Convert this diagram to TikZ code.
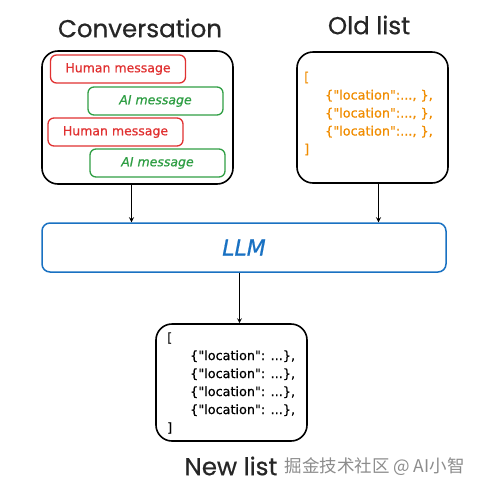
\documentclass[tikz,border=0pt]{standalone}
\usepackage{fontspec}
\setmainfont{Poppins}[FakeBold=0.6]
\newfontfamily\handfont[FakeBold=0.8]{DejaVu Sans}
\newfontfamily\cjkfont{Noto Sans CJK SC}
\usepackage{tikz}
\usetikzlibrary{positioning}

\definecolor{exred}{RGB}{224,49,49}
\definecolor{exgreen}{RGB}{47,158,68}
\definecolor{exblue}{RGB}{25,113,194}
\definecolor{exorange}{RGB}{240,140,0}

\begin{document}
\begin{tikzpicture}[x=1pt,y=-1pt,
    box/.style={draw=black,line width=1.6pt,rounded corners=16pt,inner sep=0pt},
    msg/.style={draw,line width=1.3pt,rounded corners=6pt,minimum width=135pt,minimum height=28pt,inner sep=0pt,font=\handfont\fontsize{12.5}{14}\selectfont},
    human/.style={msg,draw=exred,text=exred},
    aimsg/.style={msg,draw=exgreen,text=exgreen},
    heading/.style={font=\fontsize{24.5}{28}\selectfont,text=black!85},
    listtext/.style={font=\handfont\fontsize{12.8}{18}\selectfont,align=left,anchor=west,inner sep=0pt}]
  \useasboundingbox (0,0) rectangle (483,491);

  % conversation
  \node[heading] (convtitle) at (140,28) {Conversation};
  \node[box,minimum width=191pt,minimum height=133pt] (conv) at (137.5,117.5) {};
  \node[human] (human1) at (118,69) {Human message};
  \node[aimsg] (ai1) at (155.5,101) {\itshape AI message};
  \node[human] (human2) at (115.5,132) {Human message};
  \node[aimsg] (ai2) at (157.5,163) {\itshape AI message};

  % old list
  \node[heading] (oldtitle) at (369,25) {Old list};
  \node[box,minimum width=151pt,minimum height=131pt] (oldlist) at (372.5,117.5) {};
  \node[listtext,text=exorange] (oldtext) at (304,113.5)
    {[\\
     \hspace{21pt}\{"location":..., \},\\
     \hspace{21pt}\{"location":..., \},\\
     \hspace{21pt}\{"location":..., \},\\
     ]};

  % model
  \node[draw=exblue,line width=1.5pt,rounded corners=8pt,minimum width=404pt,minimum height=49pt,
        text=exblue,font=\handfont\itshape\fontsize{22}{24}\selectfont] (llm) at (244,247.5) {LLM};

  % new list
  \node[box,minimum width=151pt,minimum height=117pt] (newlist) at (231.5,382.5) {};
  \node[listtext] (newtext) at (167,383)
    {[\\
     \hspace{23pt}\{"location": ...\},\\
     \hspace{23pt}\{"location": ...\},\\
     \hspace{23pt}\{"location": ...\},\\
     \hspace{23pt}\{"location": ...\},\\
     ]};
  \node[heading] (newtitle) at (231,466) {New list};
  \node[anchor=west,text=black!45,font=\cjkfont\fontsize{17.5}{20}\selectfont] (mark) at (281,467) {掘金技术社区 @ AI小智};

  \path[-stealth,line width=1.2pt]
    ([xshift=-6pt]conv.south)   edge ([xshift=-6pt]conv.south |- llm.north)
    ([xshift=6pt]oldlist.south) edge ([xshift=6pt]oldlist.south |- llm.north)
    ([xshift=8pt]newlist.north |- llm.south) edge ([xshift=8pt]newlist.north)
  ;
\end{tikzpicture}
\end{document}
